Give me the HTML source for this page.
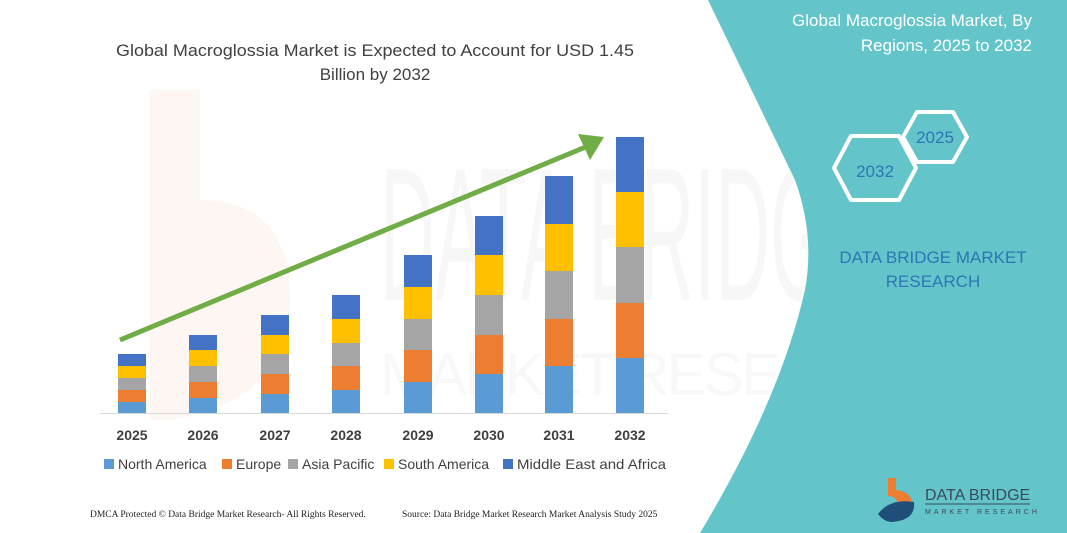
<!DOCTYPE html>
<html><head><meta charset="utf-8"><style>
body{margin:0;width:1067px;height:533px;overflow:hidden;background:#fff;font-family:"Liberation Sans",sans-serif}
</style></head><body>
<svg width="1067" height="533" viewBox="0 0 1067 533" xmlns="http://www.w3.org/2000/svg" style="position:absolute;left:0;top:0">
<!-- watermark -->
<text x="380" y="300" font-size="190" fill="#f7f7f7" font-family="Liberation Sans" textLength="500" lengthAdjust="spacingAndGlyphs">DATA BRIDGE</text>
<text x="380" y="395" font-size="60" fill="#f8f8f8" font-family="Liberation Sans" textLength="560" lengthAdjust="spacing">MARKET RESEARCH</text>
<path d="M150 90 L200 90 L200 200 Q290 200 290 300 Q290 400 170 420 L150 420 Z" fill="#fef6f2"/>
<!-- teal panel -->
<path d="M708 0 L1067 0 L1067 533 L700 533 Q780 400 805 290 Q815 235 795 180 Z" fill="#63c5c9"/>
<!-- title -->
<text x="375" y="56" font-size="17" fill="#404040" text-anchor="middle" textLength="518" lengthAdjust="spacingAndGlyphs">Global Macroglossia Market is Expected to Account for USD 1.45</text>
<text x="375" y="80" font-size="17" fill="#404040" text-anchor="middle">Billion by 2032</text>
<!-- baseline -->
<line x1="100" y1="413.5" x2="668" y2="413.5" stroke="#d9d9d9" stroke-width="1"/>
<g id="bars">
<g transform="translate(118,0)">
<rect y="402" width="28" height="11" fill="#5b9bd5"/><rect y="390" width="28" height="12" fill="#ed7d31"/><rect y="378" width="28" height="12" fill="#a5a5a5"/><rect y="366" width="28" height="12" fill="#ffc000"/><rect y="354" width="28" height="12" fill="#4472c4"/></g>
<g transform="translate(189,0)">
<rect y="398" width="28" height="15" fill="#5b9bd5"/><rect y="382" width="28" height="16" fill="#ed7d31"/><rect y="366" width="28" height="16" fill="#a5a5a5"/><rect y="350" width="28" height="16" fill="#ffc000"/><rect y="335" width="28" height="15" fill="#4472c4"/></g>
<g transform="translate(261,0)">
<rect y="394" width="28" height="19" fill="#5b9bd5"/><rect y="374" width="28" height="20" fill="#ed7d31"/><rect y="354" width="28" height="20" fill="#a5a5a5"/><rect y="335" width="28" height="19" fill="#ffc000"/><rect y="315" width="28" height="20" fill="#4472c4"/></g>
<g transform="translate(332,0)">
<rect y="390" width="28" height="23" fill="#5b9bd5"/><rect y="366" width="28" height="24" fill="#ed7d31"/><rect y="343" width="28" height="23" fill="#a5a5a5"/><rect y="319" width="28" height="24" fill="#ffc000"/><rect y="295" width="28" height="24" fill="#4472c4"/></g>
<g transform="translate(404,0)">
<rect y="382" width="28" height="31" fill="#5b9bd5"/><rect y="350" width="28" height="32" fill="#ed7d31"/><rect y="319" width="28" height="31" fill="#a5a5a5"/><rect y="287" width="28" height="32" fill="#ffc000"/><rect y="255" width="28" height="32" fill="#4472c4"/></g>
<g transform="translate(475,0)">
<rect y="374" width="28" height="39" fill="#5b9bd5"/><rect y="335" width="28" height="39" fill="#ed7d31"/><rect y="295" width="28" height="40" fill="#a5a5a5"/><rect y="255" width="28" height="40" fill="#ffc000"/><rect y="216" width="28" height="39" fill="#4472c4"/></g>
<g transform="translate(545,0)">
<rect y="366" width="28" height="47" fill="#5b9bd5"/><rect y="319" width="28" height="47" fill="#ed7d31"/><rect y="271" width="28" height="48" fill="#a5a5a5"/><rect y="224" width="28" height="47" fill="#ffc000"/><rect y="176" width="28" height="48" fill="#4472c4"/></g>
<g transform="translate(616,0)">
<rect y="358" width="28" height="55" fill="#5b9bd5"/><rect y="303" width="28" height="55" fill="#ed7d31"/><rect y="247" width="28" height="56" fill="#a5a5a5"/><rect y="192" width="28" height="55" fill="#ffc000"/><rect y="137" width="28" height="55" fill="#4472c4"/></g>
</g>
<!-- arrow -->
<line x1="120" y1="340" x2="588" y2="146" stroke="#70ad47" stroke-width="5"/>
<polygon points="604,137 578,134 590,160" fill="#70ad47"/>
<!-- years -->
<g font-size="14" font-weight="bold" fill="#404040" text-anchor="middle">
<text x="132" y="440">2025</text><text x="203" y="440">2026</text><text x="275" y="440">2027</text><text x="346" y="440">2028</text><text x="418" y="440">2029</text><text x="489" y="440">2030</text><text x="559" y="440">2031</text><text x="630" y="440">2032</text>
</g>
<!-- legend -->
<g font-size="14" fill="#404040">
<rect x="104" y="459" width="10" height="10" fill="#5b9bd5"/><text x="118" y="469">North America</text>
<rect x="222" y="459" width="10" height="10" fill="#ed7d31"/><text x="236" y="469">Europe</text>
<rect x="288" y="459" width="10" height="10" fill="#a5a5a5"/><text x="302" y="469">Asia Pacific</text>
<rect x="384" y="459" width="10" height="10" fill="#ffc000"/><text x="398" y="469">South America</text>
<rect x="503" y="459" width="10" height="10" fill="#4472c4"/><text x="517" y="469" textLength="149" lengthAdjust="spacingAndGlyphs">Middle East and Africa</text>
</g>
<!-- footer -->
<g font-family="Liberation Serif" font-size="9.5" fill="#222">
<text x="90" y="517">DMCA Protected © Data Bridge Market Research- All Rights Reserved.</text>
<text x="402" y="517">Source: Data Bridge Market Research Market Analysis Study 2025</text>
</g>
<!-- right panel text -->
<g font-size="17" fill="#fff" text-anchor="end">
<text x="1032" y="26">Global Macroglossia Market, By</text>
<text x="1032" y="51">Regions, 2025 to 2032</text>
</g>
<polygon points="903,137 917,112 953,112 967,137 953,162 917,162" fill="none" stroke="#fff" stroke-width="4" stroke-linejoin="round"/>
<polygon points="834,168 851,136 899,136 916,168 899,200 851,200" fill="none" stroke="#fff" stroke-width="4" stroke-linejoin="round"/>
<text x="935" y="143" font-size="17" fill="#2e75b6" text-anchor="middle">2025</text>
<text x="875" y="177" font-size="17" fill="#2e75b6" text-anchor="middle">2032</text>
<g font-size="17" fill="#2e75b6" text-anchor="middle">
<text x="933" y="263">DATA BRIDGE MARKET</text>
<text x="933" y="287">RESEARCH</text>
</g>
<!-- logo -->
<path d="M888 478 L896 478 L896 490 Q912 492 912 504 L898 504 Q896 496 888 496 Z" fill="#ed7d31"/>
<path d="M878 514 Q890 498 914 502 Q916 520 892 522 Q884 522 878 514 Z" fill="#1f4e79"/>
<text x="925" y="500" font-size="16" fill="#3a4a5a">DATA BRIDGE</text>
<line x1="925" y1="504" x2="1030" y2="504" stroke="#3a4a5a" stroke-width="1"/>
<text x="925" y="514" font-size="7" fill="#3a4a5a" letter-spacing="3">MARKET RESEARCH</text>
</svg>
</body></html>
